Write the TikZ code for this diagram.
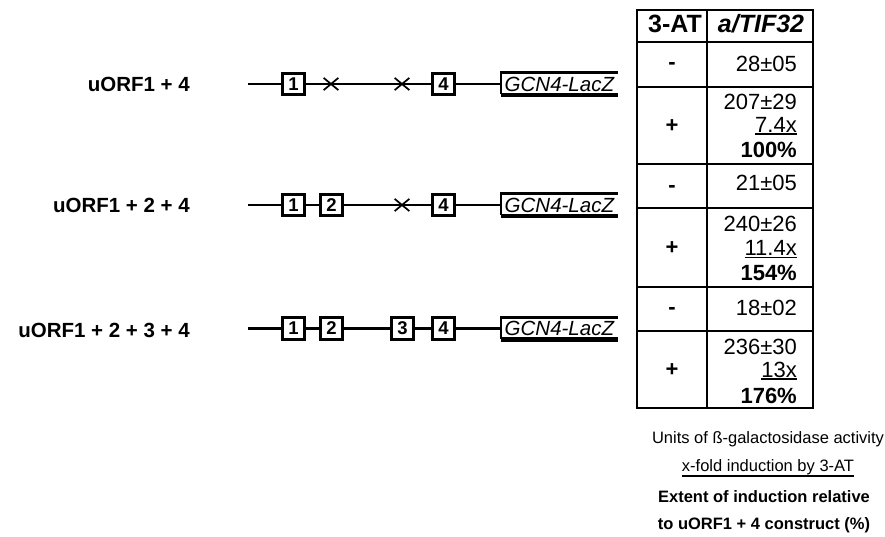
\documentclass[tikz,border=0pt]{standalone}
\usepackage{fontspec}
\setmainfont{Liberation Sans}
\usetikzlibrary{shapes.misc}
\newcommand\fsz[1]{\fontsize{#1}{#1}\selectfont}
% underline drawn as a rule just below the box
\newcommand\ulin[1]{\vtop{\hbox{#1}\kern1pt\hrule height 1.3pt}}

\begin{document}
\begin{tikzpicture}[x=1pt,y=-1pt,
  lbl/.style={anchor=base east, inner sep=0, font=\bfseries\fsz{20.5}},
  orf/.style={draw, line width=2.8pt, minimum width=22.5, minimum height=21.5,
              inner sep=0, font=\bfseries\fsz{18.5}},
  gene/.style={line width=2.8pt},
  mut/.style={cross out, draw, line width=1.7pt, minimum width=13,
              minimum height=10.5, inner sep=0},
  reporter/.style={anchor=west, inner xsep=3.5pt, inner ysep=0,
                   minimum width=114, minimum height=22, font=\itshape\fsz{20.5}},
  tbl/.style={line width=2.2pt},
  hdr/.style={anchor=base, inner sep=0, font=\bfseries\fsz{25}},
  sign/.style={inner sep=0, font=\bfseries\fsz{22}},
  val/.style={anchor=base east, inner sep=0, font=\fsz{22}},
  note/.style={anchor=base, inner sep=0, font=\fsz{16.5}}
]
\useasboundingbox (0,0) rectangle (885,537);

% ---- construct labels ----
\node[lbl] (l1) at (190,92) {uORF1 + 4};
\node[lbl] (l2) at (190,213) {uORF1 + 2 + 4};
\node[lbl] (l3) at (190,337) {uORF1 + 2 + 3 + 4};

% ---- construct 1: uORF1 + 4 ----
\coordinate (s1) at (248,84);
\node[orf] (a1) at (293.5,84) {1};
\node[orf] (d1) at (443.5,84) {4};
\node[reporter] (r1) at (501,84) {GCN4-LacZ};
\draw[gene] (s1) -- (a1.west) (a1.east) -- (d1.west) (d1.east) -- (r1.west);
\node[mut] (x11) at (331,84) {};
\node[mut] (x12) at (402,84) {};

% ---- construct 2: uORF1 + 2 + 4 ----
\coordinate (s2) at (248,205);
\node[orf] (a2) at (293.5,205) {1};
\node[orf] (b2) at (331.5,205) {2};
\node[orf] (d2) at (443.5,205) {4};
\node[reporter] (r2) at (501,205) {GCN4-LacZ};
\draw[gene] (s2) -- (a2.west) (a2.east) -- (b2.west) (b2.east) -- (d2.west)
  (d2.east) -- (r2.west);
\node[mut] (x2) at (402,205) {};

% ---- construct 3: uORF1 + 2 + 3 + 4 ----
\coordinate (s3) at (248,328.5);
\node[orf] (a3) at (293.5,328.5) {1};
\node[orf] (b3) at (331.5,328.5) {2};
\node[orf] (c3) at (402.5,328.5) {3};
\node[orf] (d3) at (443.5,328.5) {4};
\node[reporter] (r3) at (501,328.5) {GCN4-LacZ};
\draw[gene] (s3) -- (a3.west) (a3.east) -- (b3.west) (b3.east) -- (c3.west)
  (c3.east) -- (d3.west) (d3.east) -- (r3.west);

% reporter outlines, open on the right
\foreach \r in {r1,r2,r3}{
  \draw[line width=4.5pt] (\r.south west) -- (\r.south east);
  \draw[line width=2.8pt] (\r.north east) -- (\r.north west) -- ([yshift=1pt]\r.south west);
}

% ---- table ----
\draw[tbl] (637,10) rectangle (813,408);
\draw[tbl] (707,10) -- (707,408);
\foreach \yy in {42,87,164,208,287,331}{
  \draw[tbl] (637,\yy) -- (813,\yy);
}
\node[hdr] (h1) at (675,33) {3-AT};
\node[hdr] (h2) at (761,33) {\itshape a/TIF32};

\node[sign] (p1) at (672,66) {-};
\node[sign] (p2) at (672,126.5) {+};
\node[sign] (p3) at (672,188.5) {-};
\node[sign] (p4) at (672,248.5) {+};
\node[sign] (p5) at (672,310.5) {-};
\node[sign] (p6) at (672,370.5) {+};

\node[val] (v1) at (797,71.5) {28±05};
\node[val] (v2a) at (797,110) {207±29};
\node[val] (v2b) at (797,132.5) {\ulin{7.4x}};
\node[val] (v2c) at (797,158) {\textbf{100\%}};
\node[val] (v3) at (797,190.5) {21±05};
\node[val] (v4a) at (797,231.5) {240±26};
\node[val] (v4b) at (797,255.5) {\ulin{11.4x}};
\node[val] (v4c) at (797,280) {\textbf{154\%}};
\node[val] (v5) at (797,315) {18±02};
\node[val] (v6a) at (797,354) {236±30};
\node[val] (v6b) at (797,377) {\ulin{13x}};
\node[val] (v6c) at (797,403) {\textbf{176\%}};

% ---- key ----
\node[note] (k1) at (768,443) {Units of ß-galactosidase activity};
\node[note] (k2) at (768,471) {\ulin{x-fold induction by 3-AT}};
\node[note, font=\bfseries\fsz{16.5}] (k3) at (764,502) {Extent of induction relative};
\node[note, font=\bfseries\fsz{16.5}] (k4) at (764,529) {to uORF1 + 4 construct (\%)};
\end{tikzpicture}
\end{document}
